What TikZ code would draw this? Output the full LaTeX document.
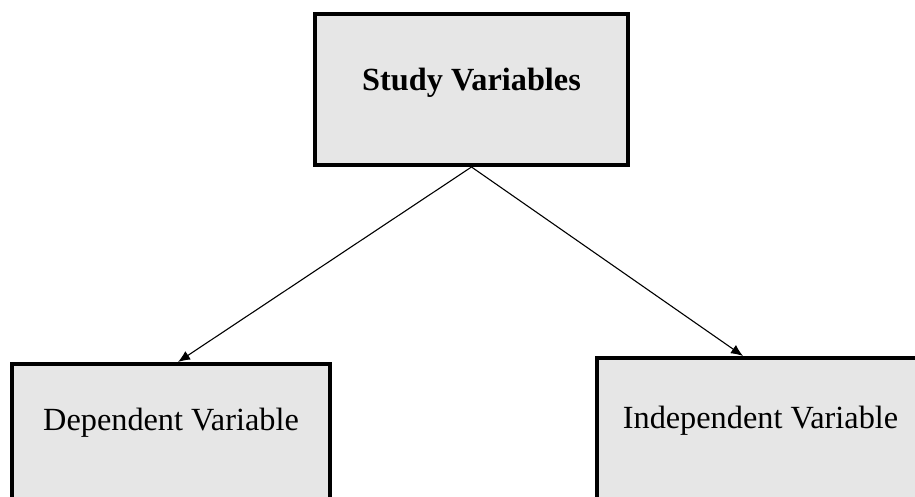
\documentclass[tikz,border=0pt]{standalone}
\usepackage{fontspec}
\setmainfont{Liberation Serif}
\usetikzlibrary{arrows.meta}
\definecolor{boxfill}{gray}{0.902}
\tikzset{
  varbox/.style={draw=black, fill=boxfill, line width=4pt, inner sep=0pt,
    font=\fontsize{32.3}{38}\selectfont, anchor=center},
  link/.style={line width=1.1pt, -{Latex[length=12pt,width=10pt]}}
}
\begin{document}
\begin{tikzpicture}[x=1pt, y=-1pt]
  \useasboundingbox (0,0) rectangle (915,497);
  \clip (0,0) rectangle (915,497);
  % top-level box
  \node[varbox, minimum width=313pt, minimum height=151pt,
        text height=22pt, text depth=19pt] (study) at (471.5,89.5)
        {\bfseries Study Variables};
  % lower boxes (run past the page edges)
  \node[varbox, minimum width=318pt, minimum height=146pt,
        text height=22pt, text depth=36pt] (dep) at (171,437)
        {Dependent Variable};
  \node[varbox, minimum width=327pt, minimum height=140.5pt,
        text height=22pt, text depth=22pt] (indep) at (760.5,428.25)
        {Independent Variable};
  % connectors
  \coordinate (deptip) at ([xshift=168pt]dep.north west);
  \coordinate (indeptip) at ([xshift=148pt]indep.north west);
  \draw[link] (study.south) -- (deptip);
  \draw[link] (study.south) -- (indeptip);
\end{tikzpicture}
\end{document}
